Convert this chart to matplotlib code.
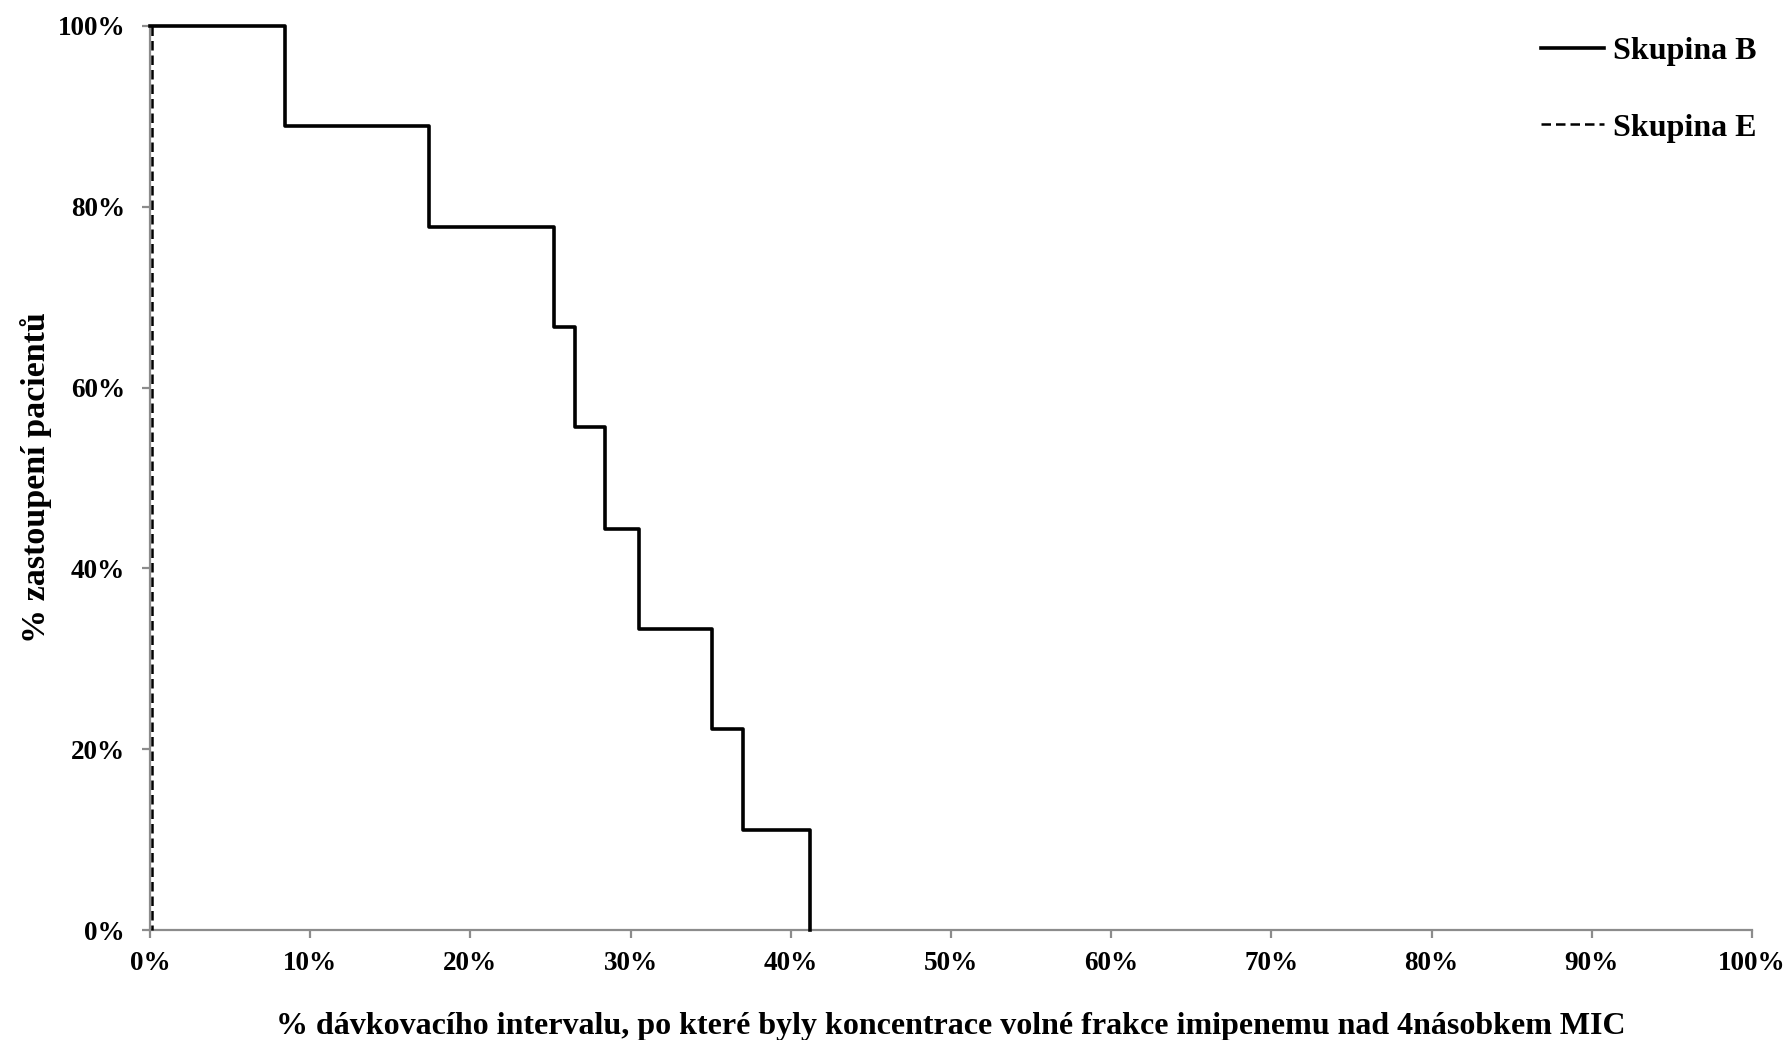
import matplotlib
matplotlib.use("Agg")
import matplotlib.pyplot as plt
from matplotlib.ticker import FuncFormatter

# data (x: % of dosing interval, y: % of patients)
group_b_x = [0, 8.4, 17.4, 25.2, 26.5, 28.4, 30.5, 35.1, 37.0, 41.2]
group_b_y = [100, 88.9, 77.8, 66.7, 55.6, 44.4, 33.3, 22.2, 11.1, 0]
group_e_x = [0.1, 0.1]
group_e_y = [100, 0]
series_labels = ["Skupina B", "Skupina E"]
x_ticks = list(range(0, 101, 10))
y_ticks = list(range(0, 101, 20))

plt.rcParams["font.family"] = ["Liberation Serif", "DejaVu Serif"]
plt.rcParams["font.weight"] = "bold"

fig = plt.figure(figsize=(17.89, 10.40), dpi=100)
ax = fig.add_axes([150 / 1789, 1 - 930 / 1040, (1752 - 150) / 1789, (930 - 26) / 1040])

ax.plot(group_b_x, group_b_y, drawstyle="steps-post", color="black", lw=2.6,
        label=series_labels[0], clip_on=False, zorder=3)
ax.plot(group_e_x, group_e_y, color="black", lw=1.8, linestyle=(0, (3.8, 2.0)),
        label=series_labels[1], clip_on=False, zorder=3)

ax.set_xlim(0, 100)
ax.set_ylim(0, 100)
ax.set_xticks(x_ticks)
ax.set_yticks(y_ticks)
pct = FuncFormatter(lambda v, _: f"{v:.0f}%")
ax.xaxis.set_major_formatter(pct)
ax.yaxis.set_major_formatter(pct)

for side in ("top", "right"):
    ax.spines[side].set_visible(False)
for side in ("left", "bottom"):
    ax.spines[side].set_color("#8c8c8c")
    ax.spines[side].set_linewidth(1.6)
ax.tick_params(axis="both", direction="out", length=6, width=1.6, color="#8c8c8c",
               labelsize=19.5)
ax.tick_params(axis="x", pad=9)
ax.tick_params(axis="y", pad=12)

ax.set_xlabel("% dávkovacího intervalu, po které byly koncentrace volné frakce imipenemu nad 4násobkem MIC",
              fontsize=23, fontweight="bold", labelpad=26)
ax.set_ylabel("% zastoupení pacientů", fontsize=24.5, fontweight="bold", labelpad=4)

leg = ax.legend(loc="upper right", bbox_to_anchor=(1.021, 1.02), frameon=False,
                fontsize=23, handlelength=2.0, handletextpad=0.28, labelspacing=1.48)
for t in leg.get_texts():
    t.set_fontweight("bold")

fig.savefig("out.png", dpi=100)
